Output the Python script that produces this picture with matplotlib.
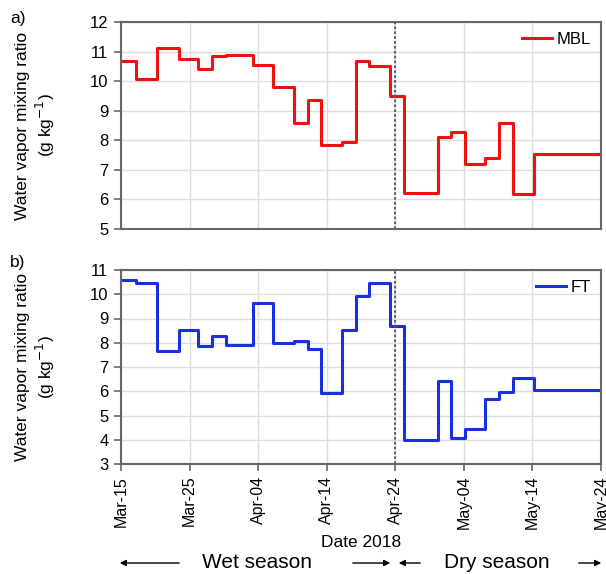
import pandas as pd
import matplotlib
matplotlib.use('Agg')
import matplotlib.pyplot as plt
import matplotlib.dates as mdates

plt.rcParams['font.family'] = ['Liberation Sans', 'DejaVu Sans']

# day offsets from 2018-03-15 where each sample period starts (last = end of record)
sample_day = [0, 2.2, 5.3, 8.4, 11.3, 13.2, 15.3, 19.2, 22.2, 25.2, 27.2, 29.2,
              32.2, 34.2, 36.1, 39.3, 41.2, 46.2, 48.1, 50.2, 53.1, 55.1, 57.2, 60.2, 70]
mbl = [10.68, 10.06, 11.11, 10.76, 10.41, 10.85, 10.88, 10.54, 9.80, 8.60, 9.35, 7.85,
       7.93, 10.68, 10.52, 9.50, 6.21, 8.10, 8.29, 7.21, 7.39, 8.58, 6.19, 7.54]
ft = [10.58, 10.47, 7.65, 8.54, 7.87, 8.28, 7.90, 9.63, 8.00, 8.09, 7.74, 5.93,
      8.52, 9.94, 10.47, 8.70, 3.99, 6.43, 4.06, 4.44, 5.68, 5.95, 6.53, 6.06]
start = pd.Timestamp('2018-03-15')
end = pd.Timestamp('2018-05-24')
season_split = pd.Timestamp('2018-04-24')

dates = [start + pd.Timedelta(days=d) for d in sample_day]

W, H = 606, 574
fig = plt.figure(figsize=(W / 100, H / 100), dpi=100)
ax1 = fig.add_axes([121 / W, 1 - 229 / H, 480 / W, 207 / H])
ax2 = fig.add_axes([121 / W, 1 - 464 / H, 480 / W, 194 / H])

spine_col = '#666666'


def style_axis(ax, values, color, label, ylim, yticks):
    ax.step(dates, values + [values[-1]], where='post', color=color, lw=2.2, label=label)
    ax.axvline(season_split, color='#555555', ls=(0, (1.5, 1.2)), lw=1.3)
    ax.set_xlim(start, end)
    ax.set_ylim(*ylim)
    ax.set_yticks(yticks)
    ax.set_xticks(pd.date_range(start, end, freq='10D'))
    ax.xaxis.set_major_formatter(mdates.DateFormatter('%b-%d'))
    ax.grid(True, color='#dddddd', lw=1)
    ax.set_axisbelow(True)
    for s in ax.spines.values():
        s.set_color(spine_col)
        s.set_linewidth(1.5)
    ax.tick_params(axis='y', direction='out', length=5, width=1.2, color=spine_col,
                   labelsize=12, pad=4)
    ax.set_ylabel('Water vapor mixing ratio\n(g kg$^{-1}$)', fontsize=12.5, labelpad=24)
    ax.legend(loc='upper right', frameon=False, fontsize=12, handlelength=1.8,
              handletextpad=0.3, borderaxespad=0.2)


style_axis(ax1, mbl, '#ee1111', 'MBL', (5, 12), range(5, 13))
style_axis(ax2, ft, '#1a2fdd', 'FT', (3, 11), range(3, 12))

ax1.tick_params(axis='x', length=0, labelbottom=False)
ax2.tick_params(axis='x', direction='out', length=5, width=1.2, color=spine_col,
                labelsize=11.5, rotation=90)
ax2.set_xlabel('Date 2018', fontsize=12.5, labelpad=4)

fig.text(10 / W, 1 - 18 / H, 'a)', fontsize=12.5, va='center')
fig.text(10 / W, 1 - 262 / H, 'b)', fontsize=12.5, va='center')

# season annotation
yy = 1 - 563 / H
fig.text(257 / W, yy, 'Wet season', fontsize=15, ha='center', va='center')
fig.text(497 / W, yy, 'Dry season', fontsize=15, ha='center', va='center')
arrow = dict(arrowstyle='-|>', color='black', lw=1, mutation_scale=9)
for x0, x1 in [(182, 117), (350, 393), (423, 396), (576, 604)]:
    fig.add_artist(matplotlib.patches.FancyArrowPatch(
        (x0 / W, yy), (x1 / W, yy), transform=fig.transFigure, **arrow))

fig.savefig('out.png', dpi=100)
